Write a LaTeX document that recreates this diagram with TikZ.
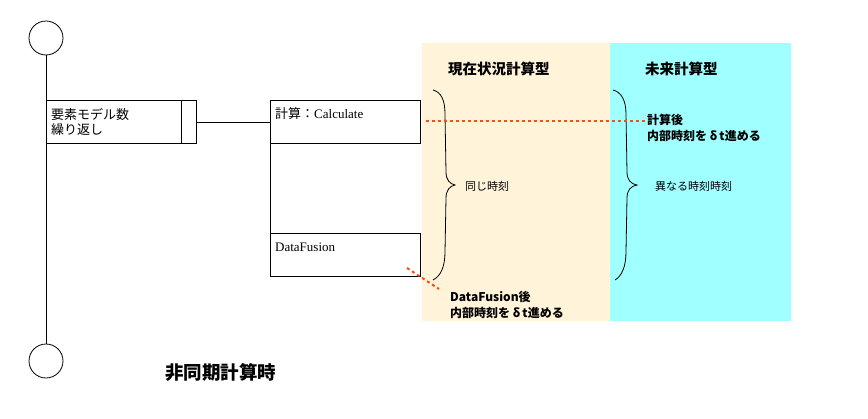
\documentclass[tikz,border=0pt]{standalone}
\usepackage{fontspec}
\setmainfont{Liberation Serif}
\newfontfamily\jp{Noto Sans CJK JP}
\definecolor{warm}{HTML}{FFF3DA}
\definecolor{cool}{HTML}{A0FFFF}
\definecolor{redorange}{HTML}{FF4A10}
\begin{document}
\begin{tikzpicture}[x=1pt,y=-1pt,
  endcircle/.style={circle,draw,line width=0.8pt,minimum size=34pt,inner sep=0pt},
  box/.style={draw,line width=1pt,minimum width=150pt,minimum height=43pt,inner sep=0pt,anchor=north west},
  boxtext/.style={anchor=west,inner sep=0pt,font=\fontsize{13pt}{15pt}\selectfont},
  head/.style={anchor=west,inner sep=0pt,font=\jp\bfseries\fontsize{14.5pt}{17pt}\selectfont},
  note/.style={anchor=west,inner sep=0pt,align=left,font=\jp\bfseries\fontsize{12pt}{16pt}\selectfont},
  small/.style={anchor=west,inner sep=0pt,font=\jp\fontsize{11pt}{13pt}\selectfont},
  reddash/.style={draw=redorange,line width=2pt,dash pattern=on 3pt off 3pt},
  line/.style={line width=1pt},
  bracepath/.style={line width=0.8pt}]
\useasboundingbox (0,0) rectangle (868,418);
% shaded areas
\fill[warm] (422,43) rectangle (610,321);
\fill[cool] (610,43) rectangle (791,321);
% life line
\node[endcircle] (top) at (46,38) {};
\node[endcircle] (bot) at (46,361) {};
\draw[line] (top.south) -- (bot.north);
% loop box
\node[box] (loop) at (46,100) {};
\draw[line] ([xshift=-16pt]loop.north east) -- ([xshift=-16pt]loop.south east);
\node[boxtext,font=\jp\fontsize{13pt}{15pt}\selectfont] (looptxt1) at (51,114) {要素モデル数};
\node[boxtext,font=\jp\fontsize{13pt}{15pt}\selectfont] (looptxt2) at (51,130) {繰り返し};
% calculation boxes
\node[box] (calc) at (270,100) {};
\node[box] (fusion) at (270,233) {};
\draw[line] (loop.east) -- (calc.west);
\draw[line] (calc.south west) -- (fusion.north west);
\node[boxtext] (calctxt) at (275,114) {{\jp 計算：}Calculate};
\node[boxtext] (fusiontxt) at (275,247) {DataFusion};
% headings
\node[head] (h1) at (448,69) {現在状況計算型};
\node[head] (h2) at (645,69) {未来計算型};
% braces
\draw[bracepath] (433,90) .. controls (441,92) and (445,100) .. (445,114) -- (446,172)
  .. controls (446,180) and (450,184) .. (455,185)
  .. controls (450,186) and (446,190) .. (446,198) -- (445,252)
  .. controls (445,266) and (441,276) .. (433,280);
\draw[bracepath] (613,90) .. controls (621,92) and (626,100) .. (626,114) -- (627,172)
  .. controls (627,180) and (631,184) .. (637,185)
  .. controls (631,186) and (627,190) .. (627,198) -- (626,252)
  .. controls (626,266) and (622,276) .. (615,280);
\node[small] (same) at (465,186) {同じ時刻};
\node[small] (diff) at (655,186) {異なる時刻時刻};
% notes
\node[note] (note1) at (647,128) {計算後\\内部時刻を δ\,t進める};
\node[note] (note2) at (450,305) {DataFusion後\\内部時刻を δ\,t進める};
\coordinate (d1s) at (426,121);
\coordinate (d2s) at (407,268);
\coordinate (d2e) at (439,289);
\draw[reddash] (d1s) -- (d1s -| note1.west);
\draw[reddash] (d2s) -- (d2e);
% title
\node[anchor=west,inner sep=0pt,font=\jp\bfseries\fontsize{18.5pt}{20pt}\selectfont] (title) at (165,372) {非同期計算時};
\end{tikzpicture}
\end{document}
